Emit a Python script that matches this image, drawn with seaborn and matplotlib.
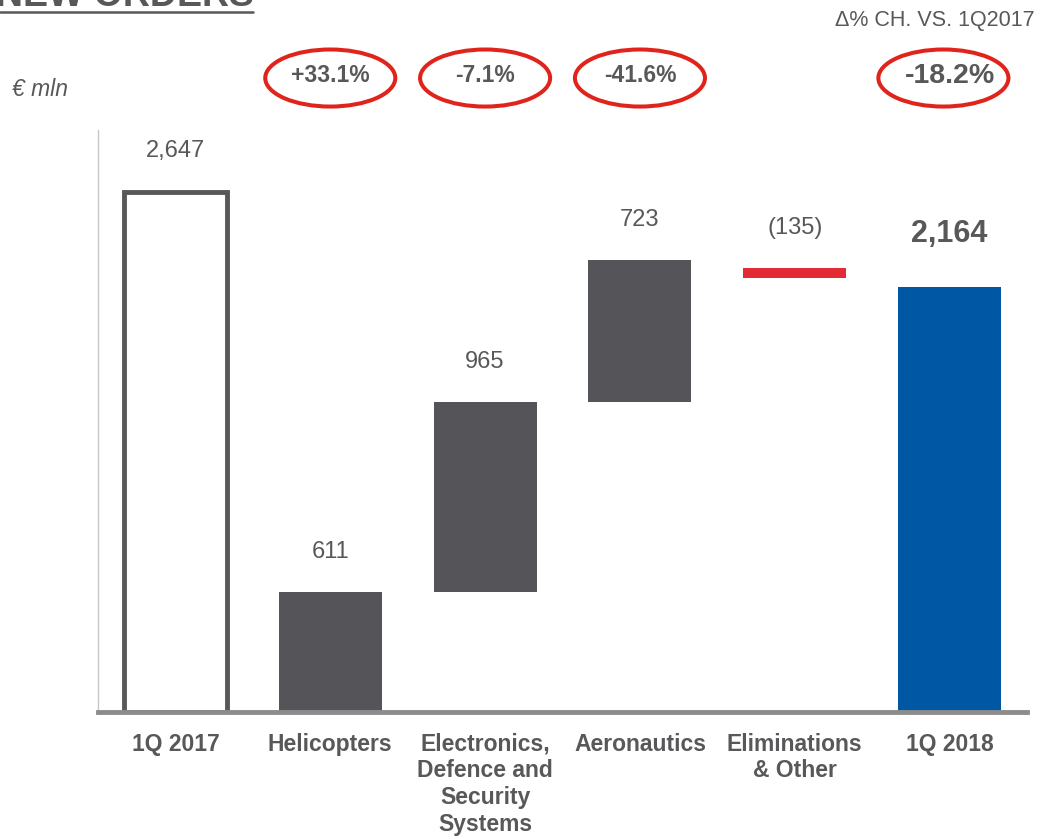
import matplotlib
matplotlib.use("Agg")
import matplotlib.pyplot as plt
import matplotlib.transforms as mtransforms
from matplotlib.patches import Ellipse
from matplotlib.lines import Line2D
import seaborn as sns
import pandas as pd

# data
categories = ["1Q 2017", "Helicopters", "Electronics,\nDefence and\nSecurity\nSystems",
              "Aeronautics", "Eliminations\n& Other", "1Q 2018"]
values = [2647, 611, 965, 723, -135, 2164]
kinds = ["start", "step", "step", "step", "elim", "total"]
pct_change = [None, 33.1, -7.1, -41.6, None, -18.2]

GREY = "#58585a"
DARK = "#555559"
RED = "#e32b36"
BLUE = "#0057a4"
RED_RING = "#e0231b"

sns.set_style("white")
plt.rcParams["font.family"] = ["Liberation Sans", "DejaVu Sans"]

# bar bottoms: steps stack from zero, totals start at zero
bottoms = []
running = 0
for v, k in zip(values, kinds):
    if k == "step":
        bottoms.append(running)
        running += v
    elif k == "elim":
        bottoms.append(running + v)
        running += v
    else:
        bottoms.append(0)

df = pd.DataFrame({"cat": categories, "val": [abs(v) for v in values]})
colors = {"start": "white", "step": DARK, "elim": RED, "total": BLUE}

fig = plt.figure(figsize=(10.54, 8.39), dpi=100)
ax = fig.add_axes([0.093, 0.1514, 0.8814, 0.6936])

sns.barplot(data=df, x="cat", y="val", hue="cat", palette=[colors[k] for k in kinds],
            legend=False, errorbar=None, width=0.665, saturation=1, ax=ax)

for patch, b, v, k in zip(ax.patches, bottoms, values, kinds):
    if k == "elim":
        # drawn as a thin red marker in the middle of the drop
        mid = b + abs(v) / 2
        patch.set_y(mid - 25)
        patch.set_height(50)
    else:
        patch.set_y(b)
    if k == "start":
        patch.set_facecolor("white")
        patch.set_edgecolor(GREY)
        patch.set_linewidth(3.5)
    else:
        patch.set_linewidth(0)

# value labels
for i, (patch, v, k) in enumerate(zip(ax.patches, values, kinds)):
    top = patch.get_y() + patch.get_height()
    txt = f"({abs(v):,})" if v < 0 else f"{v:,}"
    if k == "total":
        ax.annotate(txt, (i, top), xytext=(0, 38), textcoords="offset points",
                    ha="center", va="center", fontsize=22, fontweight="bold", color=GREY)
    else:
        ax.annotate(txt, (i, top), xytext=(0, 29), textcoords="offset points",
                    ha="center", va="center", fontsize=17, color=GREY)

ax.set_xlim(-0.5, 5.5)
ax.set_ylim(0, 2960)
ax.set_xlabel("")
ax.set_ylabel("")
ax.set_yticks([])
ax.set_xticks(range(len(categories)))
ax.set_xticklabels(categories, fontsize=16.5, fontweight="bold", color=GREY, linespacing=1.2)
ax.tick_params(axis="x", length=0, pad=15)
for s in ["top", "right"]:
    ax.spines[s].set_visible(False)
ax.spines["left"].set_color("#c8c8c8")
ax.spines["left"].set_linewidth(1)
ax.spines["bottom"].set_color("#8c8c8c")
ax.spines["bottom"].set_linewidth(3.5)
ax.spines["bottom"].set_zorder(5)

# % change rings
ring_tr = mtransforms.blended_transform_factory(ax.transData, fig.transFigure)
for i, p in enumerate(pct_change):
    if p is None:
        continue
    last = i == len(pct_change) - 1
    txt = f"{p:+.1f}%"
    fig.add_artist(Ellipse((i - (0.04 if last else 0), 0.907), 0.84, 0.068, transform=ring_tr,
                           fill=False, edgecolor=RED_RING, linewidth=2.9))
    ax.text(i, 0.910, txt, transform=ring_tr, ha="center", va="center",
            fontsize=20.5 if last else 16.5, fontweight="bold", color=GREY, clip_on=False)

fig.text(0.982, 0.975, "Δ% CH. VS. 1Q2017", ha="right", va="center", fontsize=15.5, color=GREY)
fig.text(0.011, 0.893, "€ mln", ha="left", va="center", fontsize=16.5, style="italic", color=GREY)

# slide title, cut off by the top edge
fig.text(-0.004, 0.993, "NEW ORDERS", ha="left", va="baseline", fontsize=27,
         fontweight="bold", color=GREY)
fig.add_artist(Line2D([0, 0.24], [0.986, 0.986], transform=fig.transFigure,
                      color=GREY, linewidth=1.8))

fig.savefig("out.png", dpi=100)
